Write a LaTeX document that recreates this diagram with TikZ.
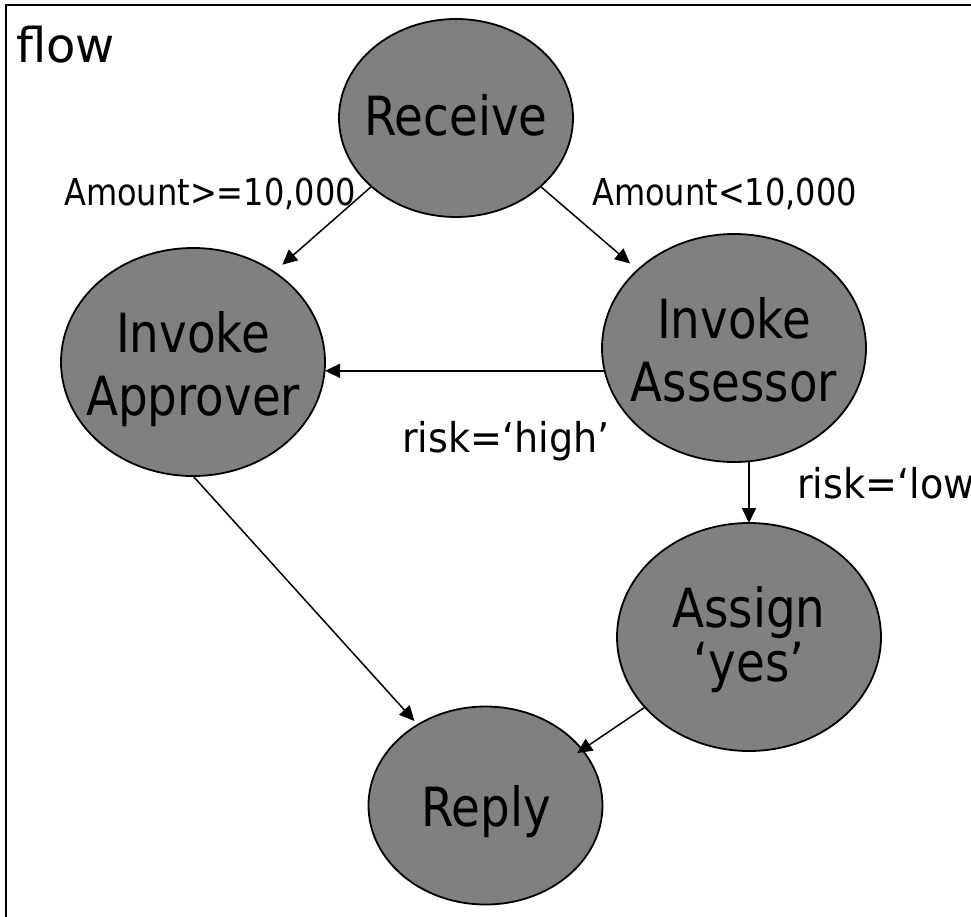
\documentclass[tikz,border=0pt]{standalone}
\usepackage{fontspec}
\setmainfont{DejaVu Sans}[FakeStretch=0.866]
\newfontfamily\widefont{DejaVu Sans}
\newfontfamily\riskfont{DejaVu Sans}[FakeStretch=0.93]
\usetikzlibrary{arrows.meta,shapes.geometric}

\definecolor{stategray}{HTML}{808080}

\tikzset{
  x=1pt, y=-1pt,
  state/.style={ellipse, draw=black, line width=1.8pt, fill=stategray,
    inner sep=0pt, outer sep=0pt},
  bigstate/.style={state, minimum width=264pt, minimum height=228pt},
  smallstate/.style={state, minimum width=234pt, minimum height=198pt},
  statetext/.style={inner sep=0pt, align=center, text=black,
    font=\fontsize{54}{63}\selectfont},
  guard/.style={inner sep=0pt, anchor=base west, text=black,
    font=\fontsize{37}{44}\selectfont},
  riskguard/.style={guard, font=\riskfont\fontsize{41}{48}\selectfont},
  arr/.style={-{Triangle[length=15pt,width=14pt]}, line width=1.5pt, draw=black},
  frame/.style={line width=2.5pt, draw=black}
}

\begin{document}
\begin{tikzpicture}
\useasboundingbox (0,0) rectangle (971,916);
\clip (0,0) rectangle (971,916);

% frame of the flow
\draw[frame] (975,5) -- (6,5) -- (6,920);
\node[inner sep=0pt, anchor=base west, font=\widefont\fontsize{48}{58}\selectfont]
  (flowTitle) at (16,62) {flow};

% activities
\node[smallstate] (receive)  at (456,118)   {};
\node[bigstate]   (approver) at (193,362)   {};
\node[bigstate]   (assessor) at (734,348)   {};
\node[bigstate]   (assign)   at (749,637)   {};
\node[smallstate] (reply)    at (485.5,805.5) {};

\node[statetext] (receiveText)  at (456,115.5) {Receive};
\node[statetext] (approverText) at (193,369.4) {Invoke\\Approver};
\node[statetext] (assessorText) at (734,349.5) {Invoke\\Assessor};
\node[statetext, font=\fontsize{54}{54}\selectfont]
  (assignText) at (749,640) {Assign\\‘yes’};
\node[statetext] (replyText)    at (486,811.7) {Reply};

% transitions
\draw[arr, shorten >=11pt] (receive.219) -- (approver.48.7);
\draw[arr, shorten >=10pt] (receive.321) -- (assessor.141);
\draw[arr] (assessor.190.5) -- (assessor.190.5 -| approver.east);
\draw[arr] (assign.north |- assessor.south) -- (assign.north);
\draw[arr, shorten >=5pt] (approver.south) -- (reply.130.6);
\draw[arr, shorten >=-6pt] (assign.214.3) -- (reply.30.7);

% guards
\node[guard] (guardHigh) at (64,205)  {Amount>=10,000};
\node[guard] (guardLow)  at (592,205) {Amount<10,000};
\node[riskguard] (riskHigh) at (402,452) {risk=‘high’};
\node[riskguard] (riskLow)  at (797,498) {risk=‘low’};
\end{tikzpicture}
\end{document}
